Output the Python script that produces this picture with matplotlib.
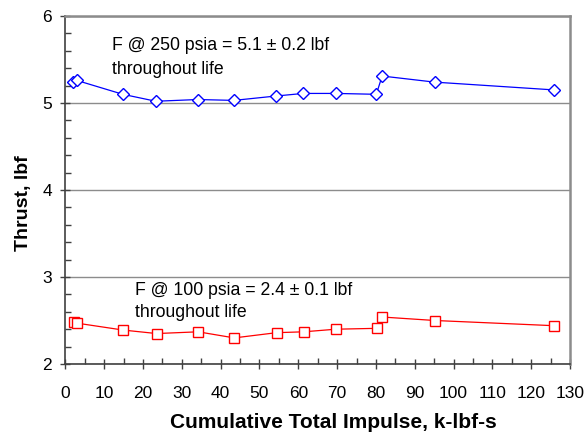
import matplotlib
matplotlib.use("Agg")
import matplotlib.pyplot as plt
from matplotlib.ticker import MultipleLocator

plt.rcParams['font.family'] = ['Liberation Sans', 'DejaVu Sans']

# thrust at 250 psia
x_250 = [2.0, 2.9, 14.8, 23.3, 34.1, 43.4, 54.2, 61.3, 69.6, 80.1, 81.6, 95.1, 126.0]
f_250 = [5.24, 5.26, 5.10, 5.02, 5.04, 5.03, 5.08, 5.11, 5.11, 5.10, 5.31, 5.24, 5.15]

# thrust at 100 psia
x_100 = [2.2, 2.9, 14.9, 23.5, 34.2, 43.5, 54.4, 61.4, 69.7, 80.3, 81.6, 95.2, 126.0]
f_100 = [2.48, 2.47, 2.39, 2.35, 2.37, 2.30, 2.36, 2.37, 2.40, 2.41, 2.54, 2.50, 2.44]

notes = [
    (12.0, 5.66, 5.39, 'F @ 250 psia = 5.1 \u00b1 0.2 lbf'),
    (17.9, 2.84, 2.59, 'F @ 100 psia = 2.4 \u00b1 0.1 lbf'),
]

fig = plt.figure(figsize=(5.86, 4.34), dpi=100)
ax = fig.add_axes([65.4 / 586, 1 - 364 / 434, (570 - 65.4) / 586, (364 - 16) / 434])

ax.plot(x_250, f_250, color='#0000FF', lw=0.9, marker='D', ms=6.5, mfc='white',
        mec='#0000FF', mew=1.0, zorder=3)
ax.plot(x_100, f_100, color='#FF0000', lw=0.9, marker='s', ms=7.5, mfc='white',
        mec='#FF0000', mew=1.0, zorder=3)

ax.set_xlim(0, 130)
ax.set_ylim(2, 6)
ax.xaxis.set_major_locator(MultipleLocator(10))
ax.xaxis.set_minor_locator(MultipleLocator(5))
ax.yaxis.set_major_locator(MultipleLocator(1))
ax.yaxis.set_minor_locator(MultipleLocator(0.2))

ax.grid(axis='y', which='major', color='#8c8c8c', lw=1.0)
ax.set_axisbelow(True)

ax.tick_params(which='major', direction='inout', length=7, width=1, color='#404040',
               labelsize=12.5, pad=6)
ax.tick_params(which='minor', direction='in', length=4, width=1, color='#404040')
ax.tick_params(axis='x', which='major', pad=12)

for side in ['left', 'bottom']:
    ax.spines[side].set_color('#404040')
    ax.spines[side].set_linewidth(1.2)
for side in ['top', 'right']:
    ax.spines[side].set_color('#8c8c8c')
    ax.spines[side].set_linewidth(1.8)

ax.set_xlabel('Cumulative Total Impulse, k-lbf-s', fontsize=15, fontweight='bold')
ax.set_ylabel('Thrust, lbf', fontsize=14, fontweight='bold')
ax.xaxis.set_label_coords(0.532, (364 - 422) / 348, transform=ax.transAxes)
ax.yaxis.set_label_coords(-0.083, 0.463, transform=ax.transAxes)
ax.xaxis.label.set_va('center')
ax.yaxis.label.set_va('center')

for x0, y1, y2, line1 in notes:
    ax.text(x0, y1, line1, fontsize=12.7, va='center', ha='left')
    ax.text(x0, y2, 'throughout life', fontsize=12.7, va='center', ha='left')

fig.savefig('out.png', dpi=100)
